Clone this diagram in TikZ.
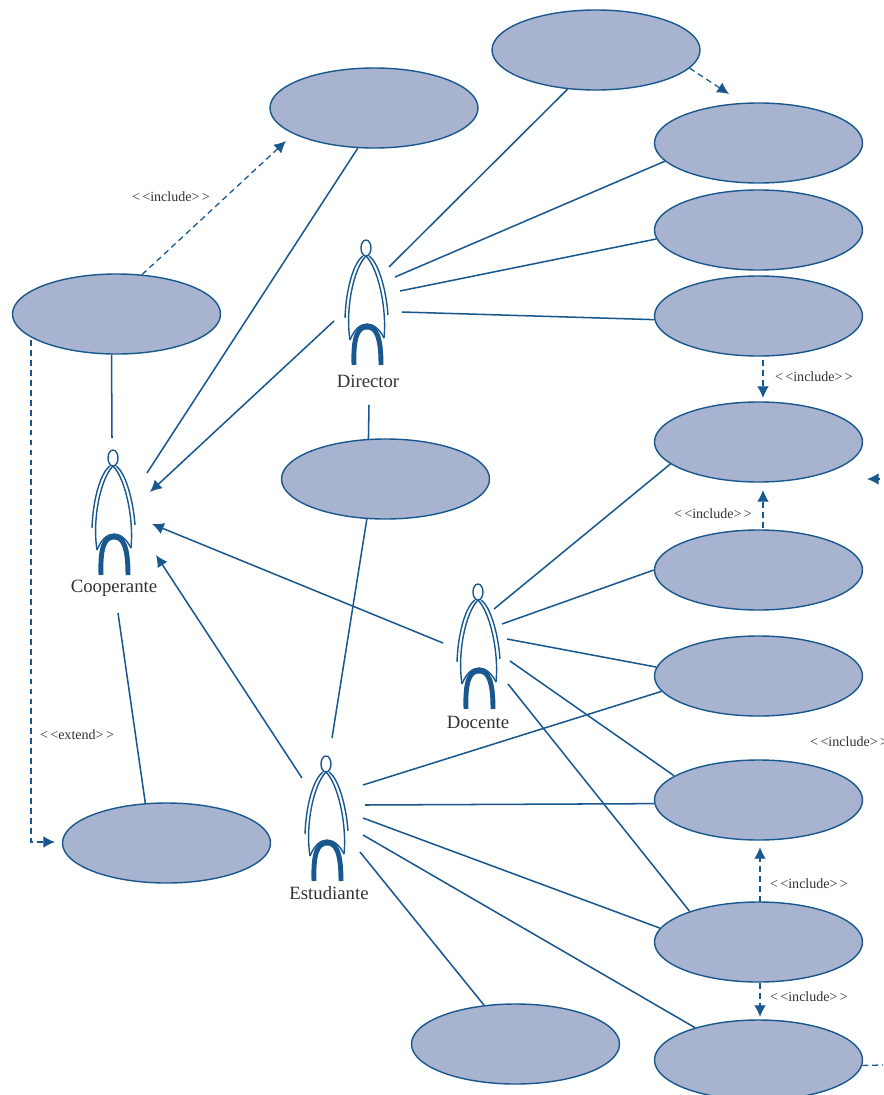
\documentclass[tikz,border=0pt]{standalone}
\usepackage{fontspec}
\setmainfont{Liberation Serif}
\usepackage{tikz}
\usetikzlibrary{arrows.meta,shapes.geometric}
\definecolor{umlblue}{RGB}{24,88,142}
\definecolor{umlfill}{RGB}{168,179,208}
\definecolor{umltext}{RGB}{50,50,50}
\newcommand{\incl}{<\,<include>\,>}
\tikzset{
  usecase/.style={ellipse,draw=umlblue,fill=umlfill,line width=1.2pt,inner sep=0pt,minimum width=6.24cm,minimum height=2.4cm},
  assoc/.style={umlblue,line width=1.3pt},
  dep/.style={umlblue,line width=1.1pt,dashed,dash pattern=on 5pt off 3.5pt},
  tip/.style={-{Latex[length=10pt,width=10pt]}},
  actorname/.style={text=umltext,font=\fontsize{16}{18}\selectfont,inner sep=0pt},
  stereo/.style={text=umltext,font=\fontsize{12}{14}\selectfont,inner sep=0pt},
  actor/.pic={
    \draw[umlblue,line width=1.2pt] (0,0) ellipse (5 and 8);
    \draw[umlblue,line width=1.2pt] (-21,70) .. controls (-20,40) and (-12,14) .. (-3,8);
    \draw[umlblue,line width=1.2pt] (3,8) .. controls (12,14) and (20,40) .. (22,67);
    \draw[umlblue,line width=1.2pt] (-16,92) .. controls (-21,60) and (-12,20) .. (0,8);
    \draw[umlblue,line width=1.2pt] (18,90) .. controls (21,60) and (12,20) .. (0,8);
    \draw[umlblue,line width=1.2pt] (-16,92) .. controls (-12,82) and (-6,76) .. (1,76) .. controls (8,76) and (14,82) .. (18,90);
    \draw[umlblue,line width=4.2pt] (-12,117) .. controls (-13,88) and (-8,79) .. (1,79) .. controls (10,79) and (15,88) .. (15,117);
  }
}
\begin{document}
\begin{tikzpicture}[x=0.03cm,y=-0.03cm]
  \useasboundingbox (0,0) rectangle (883,1095);
  \clip (0,0) rectangle (883,1095);
  % use cases
  \node[usecase] (topcase) at (596,50) {};
  \node[usecase] (dirtop) at (374,108) {};
  \node[usecase] (dirone) at (758.5,143) {};
  \node[usecase] (dirtwo) at (758.5,230) {};
  \node[usecase] (dirthree) at (758.5,316) {};
  \node[usecase] (coop) at (116.5,314) {};
  \node[usecase] (incone) at (758.5,442) {};
  \node[usecase] (middle) at (385.5,479) {};
  \node[usecase] (inctwo) at (758.5,570) {};
  \node[usecase] (docone) at (758.5,676) {};
  \node[usecase] (doctwo) at (758.5,800) {};
  \node[usecase] (extcase) at (166.5,843) {};
  \node[usecase] (docthree) at (758.5,942) {};
  \node[usecase] (estone) at (515.5,1044) {};
  \node[usecase] (esttwo) at (758.5,1060) {};
  % actors
  \pic at (366,248) {actor};
  \pic at (113,458) {actor};
  \pic at (478,592) {actor};
  \pic at (326,764) {actor};
  \node[actorname] (director) at (368,381) {Director};
  \node[actorname] (cooperante) at (114,588) {Cooperante};
  \node[actorname] (docente) at (478,722) {Docente};
  \node[actorname] (estudiante) at (329,893) {Estudiante};
  % free ends beside the actors
  \coordinate (da) at (389,267);
  \coordinate (db) at (395,277);
  \coordinate (dc) at (400,291);
  \coordinate (dd) at (402,312);
  \coordinate (de) at (334,321);
  \coordinate (df) at (369,405);
  \coordinate (ca) at (147,473);
  \coordinate (cb) at (150,492);
  \coordinate (cc) at (112,438);
  \coordinate (cd) at (152,524);
  \coordinate (ce) at (156,555);
  \coordinate (cf) at (118,613);
  \coordinate (pa) at (494,609);
  \coordinate (pb) at (502,624);
  \coordinate (pc) at (507,639);
  \coordinate (pd) at (510,661);
  \coordinate (pe) at (508,684);
  \coordinate (pf) at (443,643);
  \coordinate (sa) at (363,785);
  \coordinate (sb) at (365,805);
  \coordinate (sc) at (363,818);
  \coordinate (sd) at (363,835);
  \coordinate (se) at (360,852);
  \coordinate (sf) at (332,738);
  \coordinate (sg) at (302,778);
  % associations
  \draw[assoc] (topcase.234) -- (da);
  \draw[assoc] (dirone.191) -- (db);
  \draw[assoc] (dirtwo.185.5) -- (dc);
  \draw[assoc] (dirthree.182) -- (dd);
  \draw[assoc] (dirtop.248) -- (ca);
  \draw[assoc,tip] (de) -- (cb);
  \draw[assoc] (df) -- (middle.113);
  \draw[assoc] (coop.263) -- (cc);
  \draw[assoc] (middle.245) -- (sf);
  \draw[assoc,tip] (pf) -- (cd);
  \draw[assoc,tip] (sg) -- (ce);
  \draw[assoc] (cf) -- (extcase.118);
  \draw[assoc] (pa) -- (incone.194.5);
  \draw[assoc] (pb) -- (inctwo.180);
  \draw[assoc] (pc) -- (docone.175.6);
  \draw[assoc] (pd) -- (doctwo.164.6);
  \draw[assoc] (pe) -- (docthree.156.5);
  \draw[assoc] (sa) -- (docone.189.6);
  \draw[assoc] (sb) -- (doctwo.182);
  \draw[assoc] (sc) -- (docthree.172.3);
  \draw[assoc] (sd) -- (esttwo.153);
  \draw[assoc] (se) -- (estone.129.4);
  % dependencies
  \coordinate (ta) at (729,94);
  \coordinate (tb) at (286,141);
  \coordinate (tc) at (763,360);
  \coordinate (td) at (763,398);
  \coordinate (te) at (763,528);
  \coordinate (tf) at (763,490);
  \coordinate (tg) at (760,902);
  \coordinate (th) at (760,847);
  \coordinate (ti) at (760,983);
  \coordinate (tj) at (760,1017);
  \coordinate (tk) at (31,340);
  \coordinate (tl) at (55,842);
  \coordinate (tm) at (890,479);
  \coordinate (tn) at (867,479);
  \coordinate (to) at (883,1065);
  \draw[dep,tip] (topcase.349) -- (ta);
  \draw[dep,tip] (coop.57) -- (tb);
  \draw[dep,tip] (tc) -- (td);
  \draw[dep,tip] (te) -- (tf);
  \draw[dep,tip] (tg) -- (th);
  \draw[dep,tip] (ti) -- (tj);
  \draw[dep,tip] (tk) |- (tl);
  \draw[dep,tip] (tm) -- (tn);
  \draw[dep] (esttwo.357) -- (to);
  % stereotypes
  \node[stereo] (incl) at (171,197) {\incl};
  \node[stereo] (incm) at (814,377) {\incl};
  \node[stereo] (incn) at (713,514) {\incl};
  \node[stereo,anchor=west] (inco) at (810,742) {\incl};
  \node[stereo] (incp) at (809,884) {\incl};
  \node[stereo] (incq) at (809,997) {\incl};
  \node[stereo] (extl) at (77,735) {<\,<extend>\,>};
\end{tikzpicture}
\end{document}
